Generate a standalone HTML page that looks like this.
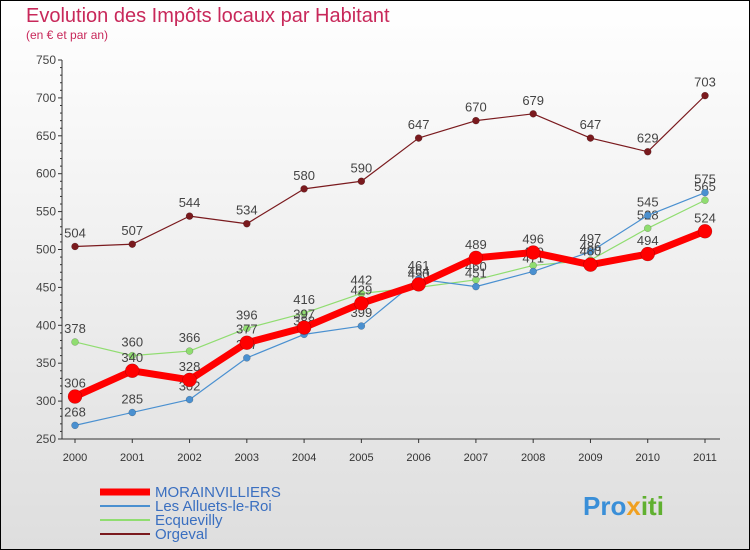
<!DOCTYPE html>
<html><head><meta charset="utf-8"><style>
body{margin:0}
#c{width:750px;height:550px;position:relative;overflow:hidden;font-family:"Liberation Sans","DejaVu Sans",sans-serif;}
</style></head><body>
<div id="c">
<svg id="s" width="750" height="550">
<defs><linearGradient id="bg" x1="0" y1="0" x2="0" y2="1"><stop offset="0" stop-color="#ffffff"/><stop offset="1" stop-color="#dedede"/></linearGradient></defs>
<rect x="0.5" y="0.5" width="749" height="549" fill="url(#bg)" stroke="#000"/>
<text x="26" y="22" font-size="20" fill="#c8285a">Evolution des Impôts locaux par Habitant</text>
<text x="26" y="39" font-size="12" fill="#c8285a">(en € et par an)</text>
<g id="axes"></g><g id="series"></g><g id="legend"></g>
<text x="583" y="515" font-size="26" font-weight="bold" fill="#3a8fd8">Pro<tspan fill="#f0a020">x</tspan><tspan fill="#60b030">iti</tspan></text>
</svg></div>
<script>
const years=[2000,2001,2002,2003,2004,2005,2006,2007,2008,2009,2010,2011];
const yTicks=[250,300,350,400,450,500,550,600,650,700,750];
const morainvilliers=[306,340,328,377,397,429,454,489,496,480,494,524];
const alluets=[268,285,302,357,388,399,461,451,471,497,545,575];
const ecquevilly=[378,360,366,396,416,442,450,460,479,486,528,565];
const orgeval=[504,507,544,534,580,590,647,670,679,647,629,703];
const NS='http://www.w3.org/2000/svg';
function X(i){return 75+i*(630/11);}
function Y(v){return 439-(v-250)*(379/500);}
function mk(t,a,p){const e=document.createElementNS(NS,t);for(const k in a)e.setAttribute(k,a[k]);p.appendChild(e);return e;}
const ax=document.getElementById('axes');
const yl=mk('line',{x1:62,y1:Y(750),x2:62,y2:Y(250),stroke:'#333'},ax);


const xl=mk('line',{x1:62,y1:Y(250),x2:720,y2:Y(250),stroke:'#333'},ax);


yTicks.forEach(v=>{
 mk('line',{x1:58,y1:Y(v),x2:62,y2:Y(v),stroke:'#333'},ax);
 if(v<750) for(let k=1;k<5;k++) mk('line',{x1:60,y1:Y(v+k*10),x2:62,y2:Y(v+k*10),stroke:'#333'},ax);
 const t=mk('text',{x:56,y:Y(v)+4,'font-size':12,fill:'#444','text-anchor':'end'},ax);t.textContent=v;
 
 
});
years.forEach((y,i)=>{
 mk('line',{x1:X(i),y1:Y(250),x2:X(i),y2:Y(250)+4,stroke:'#333'},ax);
 const t=mk('text',{x:X(i),y:Y(250)+22,'font-size':11,fill:'#333','text-anchor':'middle'},ax);t.textContent=y;
 
 
});
const sg=document.getElementById('series');
function series(data,color,w,r,name){
 const g=mk('g',{},sg);
 
 
 mk('polyline',{points:data.map((v,i)=>X(i)+','+Y(v)).join(' '),fill:'none',stroke:color,'stroke-width':w,'stroke-linejoin':'round'},g);
 data.forEach((v,i)=>{
  const c=mk('circle',{cx:X(i),cy:Y(v),r:r,fill:color,stroke:'rgba(0,0,0,0.3)','stroke-width':0.5},g);
  
  
  const t=mk('text',{x:X(i),y:Y(v)-9,'font-size':13,fill:'#444','text-anchor':'middle'},g);t.textContent=v;
 });
}
series(orgeval,'#7a1a1e',1.2,3.5,'series-orgeval');
series(ecquevilly,'#90dd70',1.2,3.5,'series-ecquevilly');
series(alluets,'#4a90d0',1.2,3.5,'series-alluets');
series(morainvilliers,'#ff0000',7,7,'series-morainvilliers');
const lg=document.getElementById('legend');
[['MORAINVILLIERS','#ff0000',7],['Les Alluets-le-Roi','#4a90d0',2],['Ecquevilly','#90dd70',2],['Orgeval','#7a1a1e',2]].forEach((d,i)=>{
 const y=492+i*14;
 const g=mk('g',{},lg);
 
 
 mk('line',{x1:100,y1:y,x2:150,y2:y,stroke:d[1],'stroke-width':d[2]},g);
 const t=mk('text',{x:155,y:y+5,'font-size':15,fill:'#3a6fc0'},g);t.textContent=d[0];
});
</script></body></html>
